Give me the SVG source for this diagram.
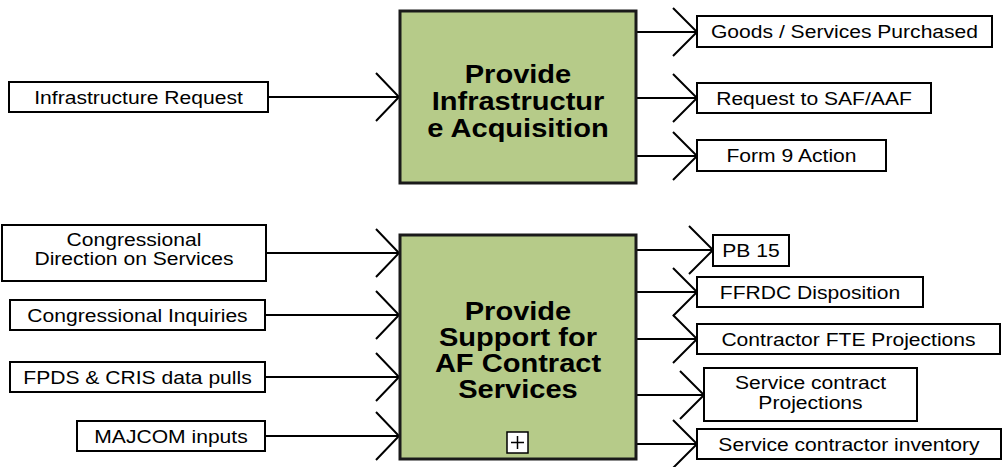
<svg xmlns="http://www.w3.org/2000/svg" width="1008" height="467" viewBox="0 0 1008 467">
<style>
.main{fill:#b6cb89;stroke:#1a1a1a;stroke-width:3}
.box{fill:#fff;stroke:#000;stroke-width:2}
.ttl{font-family:"Liberation Sans",Arial,sans-serif;font-weight:bold;font-size:25.5px;text-anchor:middle;fill:#000}
.lbl{font-family:"Liberation Sans",Arial,sans-serif;font-size:18.5px;text-anchor:middle;fill:#000}
.ln{fill:none;stroke:#000;stroke-width:2}
</style>
<rect width="1008" height="467" fill="#fff"/>
<g id="connectors" class="ln">
<path d="M268 97H399M376 73L399 97L376 121"/>
<path d="M636 32H697M673 8L697 32L673 56"/>
<path d="M636 98H697M673 74L697 98L673 122"/>
<path d="M636 156H697M673 132L697 156L673 180"/>
<path d="M266 253H399M376 229L399 253L376 277"/>
<path d="M265 315H399M376 291L399 315L376 339"/>
<path d="M265 377H399M376 353L399 377L376 401"/>
<path d="M265 436H399M376 412L399 436L376 460"/>
<path d="M636 250H713M689 226L713 250L689 274"/>
<path d="M636 292H697M673 268L697 292L673 316"/>
<path d="M636 339H697M673 315L697 339L673 363"/>
<path d="M636 395H704M680 371L704 395L680 419"/>
<path d="M636 444H697M673 420L697 444L673 468"/>
</g>
<g id="n-infra-acq">
<rect class="main" x="400" y="11" width="236" height="172"/>
<text class="ttl" transform="translate(518,83) scale(1.14,1)">Provide</text>
<text class="ttl" transform="translate(518,110) scale(1.14,1)">Infrastructur</text>
<text class="ttl" transform="translate(518,137) scale(1.14,1)">e Acquisition</text>
</g>
<g id="n-support">
<rect class="main" x="400" y="235" width="236" height="224"/>
<text class="ttl" transform="translate(518,320) scale(1.14,1)">Provide</text>
<text class="ttl" transform="translate(518,346) scale(1.14,1)">Support for</text>
<text class="ttl" transform="translate(518,372) scale(1.14,1)">AF Contract</text>
<text class="ttl" transform="translate(518,398) scale(1.14,1)">Services</text>
<rect x="507" y="432" width="21" height="21" fill="#fff" stroke="#000" stroke-width="1.5"/>
<path d="M517.5 436V449M511 442.5H524" stroke="#000" stroke-width="1.5"/>
</g>
<g id="n-infra-req"><rect class="box" x="9" y="82" width="259" height="30"/><text class="lbl" transform="translate(138.5,103.5) scale(1.14,1)">Infrastructure Request</text></g>
<g id="n-goods"><rect class="box" x="697" y="16" width="295" height="31"/><text class="lbl" transform="translate(844.5,38) scale(1.14,1)">Goods / Services Purchased</text></g>
<g id="n-saf"><rect class="box" x="697" y="83" width="234" height="30"/><text class="lbl" transform="translate(814,104.5) scale(1.14,1)">Request to SAF/AAF</text></g>
<g id="n-form9"><rect class="box" x="697" y="140" width="189" height="31"/><text class="lbl" transform="translate(791.5,162) scale(1.14,1)">Form 9 Action</text></g>
<g id="n-cong-dir"><rect class="box" x="2" y="225" width="264" height="56"/><text class="lbl" transform="translate(134,246) scale(1.14,1)">Congressional</text><text class="lbl" transform="translate(134,265) scale(1.14,1)">Direction on Services</text></g>
<g id="n-cong-inq"><rect class="box" x="10" y="300" width="255" height="30"/><text class="lbl" transform="translate(137.5,321.5) scale(1.14,1)">Congressional Inquiries</text></g>
<g id="n-fpds"><rect class="box" x="10" y="362" width="255" height="30"/><text class="lbl" transform="translate(137.5,383.5) scale(1.14,1)">FPDS &amp; CRIS data pulls</text></g>
<g id="n-majcom"><rect class="box" x="77" y="421" width="188" height="30"/><text class="lbl" transform="translate(171,442.5) scale(1.14,1)">MAJCOM inputs</text></g>
<g id="n-pb15"><rect class="box" x="713" y="235" width="76" height="31"/><text class="lbl" transform="translate(751,257) scale(1.14,1)">PB 15</text></g>
<g id="n-ffrdc"><rect class="box" x="697" y="277" width="226" height="30"/><text class="lbl" transform="translate(810,298.5) scale(1.14,1)">FFRDC Disposition</text></g>
<g id="n-fte"><rect class="box" x="697" y="324" width="303" height="30"/><text class="lbl" transform="translate(848.5,345.5) scale(1.14,1)">Contractor FTE Projections</text></g>
<g id="n-svc-proj"><rect class="box" x="704" y="368" width="213" height="53"/><text class="lbl" transform="translate(810.5,389) scale(1.14,1)">Service contract</text><text class="lbl" transform="translate(810.5,409) scale(1.14,1)">Projections</text></g>
<g id="n-svc-inv"><rect class="box" x="697" y="429" width="304" height="30"/><text class="lbl" transform="translate(849,450.5) scale(1.14,1)">Service contractor inventory</text></g>
</svg>
